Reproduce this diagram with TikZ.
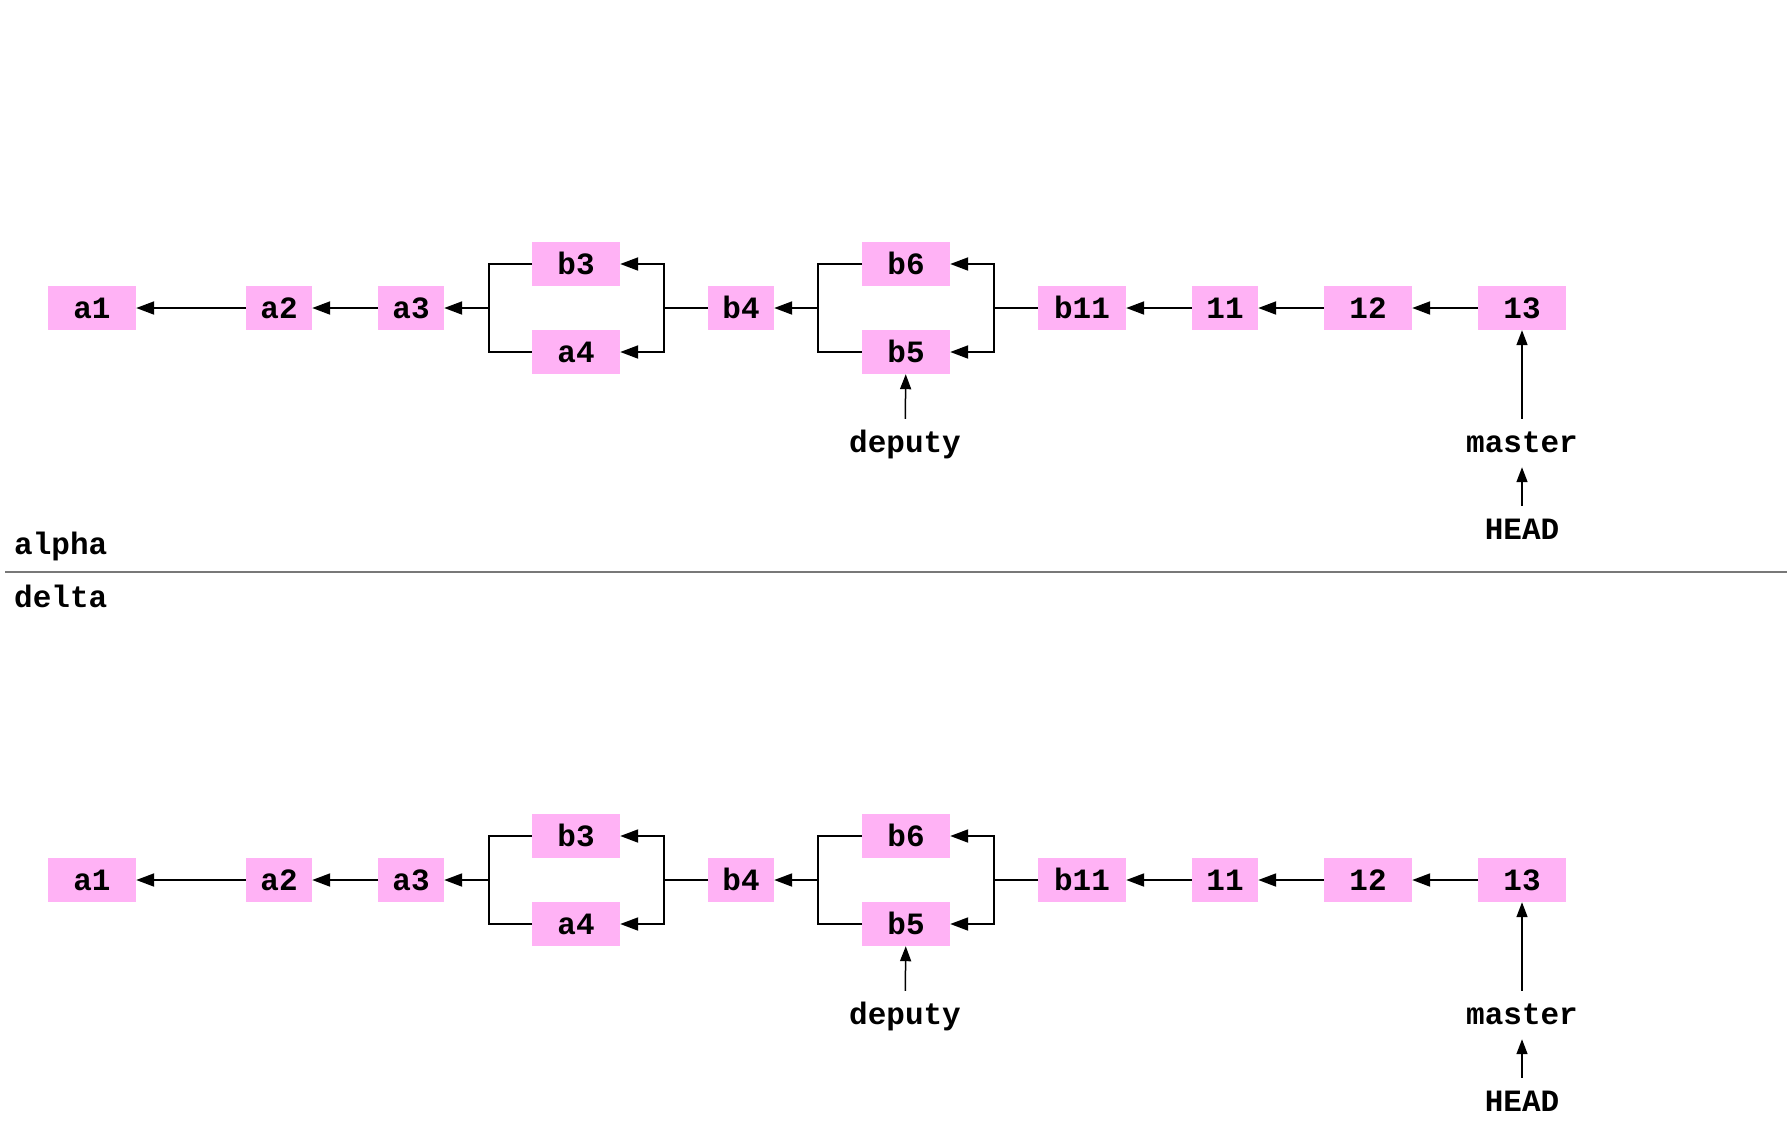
\documentclass[tikz,border=0pt]{standalone}
\usepackage{fontspec}
\setmonofont{Liberation Mono}
\usetikzlibrary{arrows.meta}
\definecolor{pinkc}{RGB}{255,178,245}
\definecolor{divc}{RGB}{120,120,120}
\begin{document}
\begin{tikzpicture}[x=1pt,y=-1pt,
  cbox/.style={fill=pinkc, inner sep=0pt, minimum height=44pt, font=\fontsize{31}{36}\selectfont\ttfamily\bfseries, text height=23.5pt, text depth=2.5pt},
  nar/.style={minimum width=66pt},
  wid/.style={minimum width=88pt},
  lbl/.style={inner xsep=0pt, inner ysep=11pt, font=\fontsize{31}{36}\selectfont\ttfamily\bfseries, text height=22pt, text depth=4pt},
  conn/.style={line width=2pt, -{Triangle[length=18pt,width=13pt]}},
  link/.style={line width=2pt},
  ptr/.style={line width=1.5pt, -{Triangle[length=15pt,width=11pt]}}]
\path[use as bounding box] (0,0) rectangle (1790,1144);
\foreach \p/\dy in {A/0,D/572}{
\begin{scope}[yshift={-\dy pt}]
  \node[cbox,wid] (\p a1) at (92,308) {a1};
  \node[cbox,nar] (\p a2) at (279,308) {a2};
  \node[cbox,nar] (\p a3) at (411,308) {a3};
  \node[cbox,wid] (\p b3) at (576,264) {b3};
  \node[cbox,wid] (\p a4) at (576,352) {a4};
  \node[cbox,nar] (\p b4) at (741,308) {b4};
  \node[cbox,wid] (\p b6) at (906,264) {b6};
  \node[cbox,wid] (\p b5) at (906,352) {b5};
  \node[cbox,wid] (\p b11) at (1082,308) {b11};
  \node[cbox,nar] (\p n11) at (1225,308) {11};
  \node[cbox,wid] (\p n12) at (1368,308) {12};
  \node[cbox,wid] (\p n13) at (1522,308) {13};
  \node[lbl] (\p dep) at (905,443) {deputy};
  \node[lbl] (\p mas) at (1522,443) {master};
  \node[lbl] (\p head) at (1522,530) {HEAD};
  \coordinate (\p j1) at (489,308);
  \coordinate (\p j2) at (664,308);
  \coordinate (\p j3) at (818,308);
  \coordinate (\p j4) at (994,308);
  \draw[conn] (\p a2) -- (\p a1);
  \draw[conn] (\p a3) -- (\p a2);
  \draw[link] (\p b3.west) -| (\p j1) |- (\p a4.west);
  \draw[conn] (\p j1) -- (\p a3);
  \draw[link] (\p b4) -- (\p j2);
  \draw[conn] (\p j2) |- (\p b3.east);
  \draw[conn] (\p j2) |- (\p a4.east);
  \draw[link] (\p b6.west) -| (\p j3) |- (\p b5.west);
  \draw[conn] (\p j3) -- (\p b4);
  \draw[link] (\p b11) -- (\p j4);
  \draw[conn] (\p j4) |- (\p b6.east);
  \draw[conn] (\p j4) |- (\p b5.east);
  \draw[conn] (\p n11) -- (\p b11);
  \draw[conn] (\p n12) -- (\p n11);
  \draw[conn] (\p n13) -- (\p n12);
  \draw[ptr] (\p dep) -- (\p b5);
  \draw[ptr] (\p mas) -- (\p n13);
  \draw[ptr] (\p head) -- (\p mas);
\end{scope}
}
\coordinate (divl) at (5,572);
\coordinate (divr) at (1787,572);
\draw[divc, line width=1.5pt] (divl) -- (divr);
\node[lbl, anchor=west] (alpha) at (14,545) {alpha};
\node[lbl, anchor=west] (delta) at (14,598) {delta};
\end{tikzpicture}
\end{document}
